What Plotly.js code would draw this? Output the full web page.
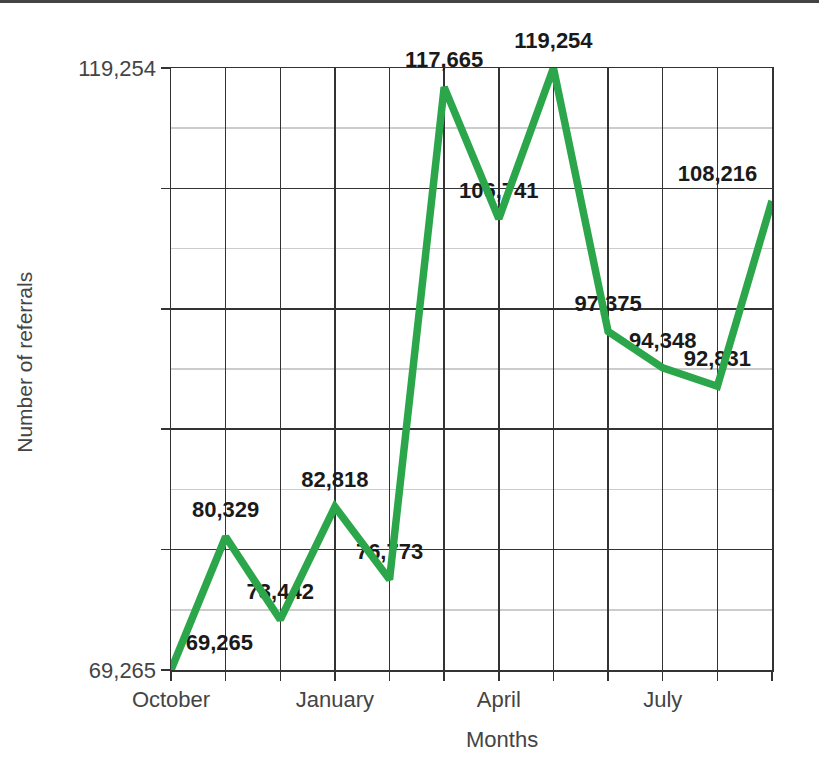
<!DOCTYPE html>
<html>
<head>
<meta charset="utf-8">
<script src="https://cdn.plot.ly/plotly-3.0.1.min.js"></script>
<style>
  html, body { margin: 0; padding: 0; background: #fff; }
  #topbar { position: absolute; left: 0; top: 0; width: 819px; height: 3px; background: #444; z-index: 5; }
  #chart { width: 819px; height: 757px; }
</style>
</head>
<body>
<div id="topbar"></div>
<div id="chart"></div>
<script>
const months = ["October", "November", "December", "January", "February", "March",
                "April", "May", "June", "July", "August", "September"];
const referrals = [69265, 80329, 73442, 82818, 76773, 117665,
                   106741, 119254, 97375, 94348, 92831, 108216];
const xTickLabels = ["October", "", "", "January", "", "", "April", "", "", "July", "", ""];
const labelPositions = ["top right", "top center", "top center", "top center", "top center", "top center",
                        "top center", "top center", "top center", "top center", "top center", "top left"];
const xTitle = "Months";
const yTitle = "Number of referrals";

const yMin = Math.min(...referrals);
const yMax = Math.max(...referrals);
const nDiv = 5;
const yTicks = [];
const yTickText = [];
for (let i = 0; i <= nDiv; i++) {
  yTicks.push(yMin + (yMax - yMin) * i / nDiv);
  yTickText.push(i === 0 ? yMin.toLocaleString("en-US") : (i === nDiv ? yMax.toLocaleString("en-US") : ""));
}
const yMinor = [];
for (let i = 0; i < nDiv; i++) yMinor.push(yMin + (yMax - yMin) * (i + 0.5) / nDiv);

const xIdx = months.map((m, i) => i);
const labelText = referrals.map(v => v.toLocaleString("en-US"));

const textTrace = {
  x: xIdx, y: referrals,
  mode: "markers+text",
  text: labelText,
  textposition: labelPositions,
  textfont: { family: "Liberation Sans, Arial, sans-serif", size: 22, color: "#1a1a1a", weight: "bold" },
  marker: { size: 22, color: "rgba(0,0,0,0)" },
  hoverinfo: "skip",
  showlegend: false,
  cliponaxis: false
};
const lineTrace = {
  x: xIdx, y: referrals,
  mode: "lines",
  line: { color: "#2ca64a", width: 7.5 },
  showlegend: false,
  cliponaxis: false
};

const axisFont = { family: "Liberation Sans, Arial, sans-serif", size: 22, color: "#444" };

const layout = {
  width: 819, height: 757,
  margin: { l: 171, r: 47, t: 68, b: 87 },
  paper_bgcolor: "#fff", plot_bgcolor: "#fff",
  xaxis: {
    range: [0, months.length - 1],
    tickmode: "array", tickvals: xIdx, ticktext: xTickLabels,
    ticks: "outside", ticklen: 9, tickcolor: "#333", tickwidth: 1.5,
    showgrid: true, gridcolor: "#333", gridwidth: 1.5,
    showline: true, linecolor: "#333", linewidth: 1.5, mirror: true,
    zeroline: false,
    tickfont: axisFont,
    fixedrange: true
  },
  yaxis: {
    range: [yMin, yMax],
    tickmode: "array", tickvals: yTicks, ticktext: yTickText,
    ticks: "outside", ticklen: 9, tickcolor: "#333", tickwidth: 1.5,
    showgrid: true, gridcolor: "#333", gridwidth: 1.5,
    minor: { tickmode: "array", tickvals: yMinor, showgrid: true, gridcolor: "#cccccc", gridwidth: 1.5, ticks: "" },
    showline: true, linecolor: "#333", linewidth: 1.5, mirror: true,
    zeroline: false,
    tickfont: axisFont,
    automargin: false,
    fixedrange: true
  },
  annotations: [
    { text: xTitle, xref: "paper", yref: "paper", x: 0.551, y: -0.116,
      xanchor: "center", yanchor: "middle", showarrow: false, font: axisFont },
    { text: yTitle, xref: "paper", yref: "paper", x: -0.243, y: 0.512, textangle: -90,
      xanchor: "center", yanchor: "middle", showarrow: false,
      font: Object.assign({}, axisFont, { size: 21 }) }
  ]
};

Plotly.newPlot("chart", [textTrace, lineTrace], layout, { staticPlot: true });
</script>
</body>
</html>
